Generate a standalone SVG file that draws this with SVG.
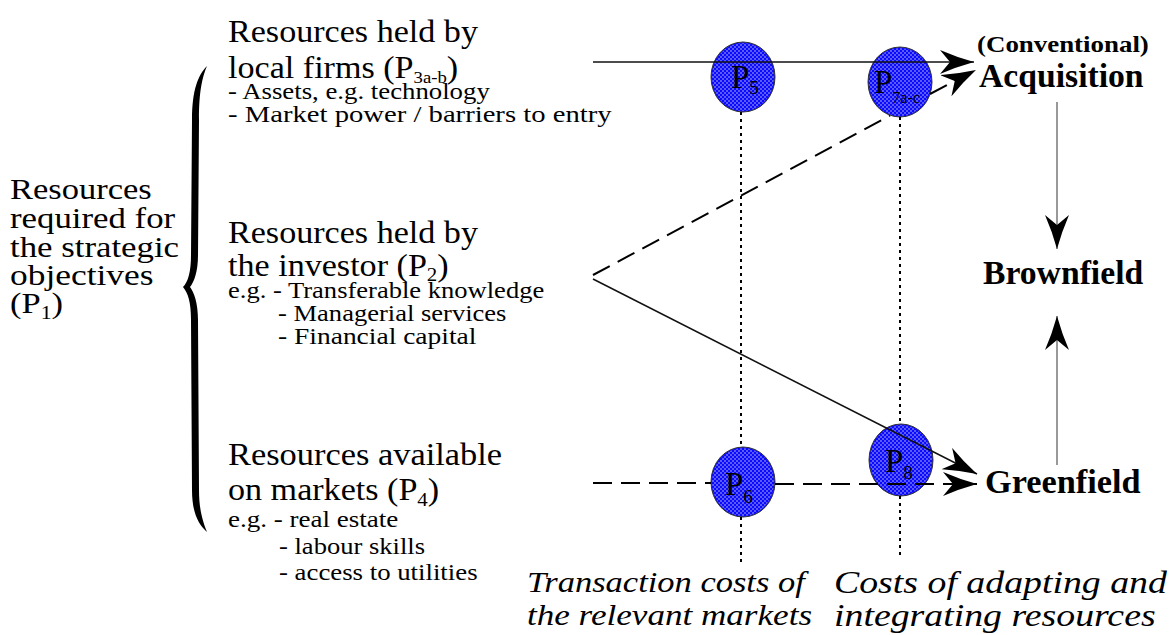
<svg xmlns="http://www.w3.org/2000/svg" width="1171" height="635" viewBox="0 0 1171 635">
<style>
text{font-family:"Liberation Serif","Times New Roman",serif;fill:#000}
.big{font-size:31px}
.left{font-size:30px}
.sm{font-size:23.5px}
.bold{font-size:33px;font-weight:bold}
.conv{font-size:23px;font-weight:bold}
.it{font-size:30px;font-style:italic}
.it2{font-size:31px;font-style:italic}
.pl{font-size:33px}
.sub{font-size:19px}
.base{fill:#0a0aff;stroke:#333;stroke-width:1}
.node{fill:url(#dots);stroke:none}
.solid{fill:none;stroke:#111;stroke-width:1.5}
.dash{fill:none;stroke:#000;stroke-width:2;stroke-dasharray:19 9}
.dot{fill:none;stroke:#000;stroke-width:2;stroke-dasharray:3 4}
.vert{fill:none;stroke:#777;stroke-width:1.5}
</style>
<defs>
<pattern id="dots" width="4" height="4" patternUnits="userSpaceOnUse">
<circle cx="1" cy="1" r="0.7" fill="#fff" fill-opacity="0.9"/>
<circle cx="3" cy="3" r="0.7" fill="#fff" fill-opacity="0.9"/>
</pattern>
<marker id="ah" viewBox="0 0 34 24" markerWidth="34" markerHeight="24" refX="34" refY="12" orient="auto" markerUnits="userSpaceOnUse">
<path d="M0,0 Q16,7 34,12 Q16,17 0,24 L10,12 Z" fill="#000"/>
</marker>
</defs>
<rect width="1171" height="635" fill="#fff"/>

<g id="brace">
<path d="M207,66 C198,75 192,90 192,120 L191,255 C191,272 188,282 183,287 C188,293 191,302 191,320 L192,490 C192,512 198,524 207,532 C203,522 199,510 199,490 L198,320 C198,303 194,292 190,287 C194,282 198,272 198,255 L199,120 C199,92 202,78 207,66 Z" fill="#000"/>
</g>

<g id="node-p1">
<text class="left" transform="translate(10,199) scale(1.15,1)">Resources</text>
<text class="left" transform="translate(10,228) scale(1.16,1)">required for</text>
<text class="left" transform="translate(10,257) scale(1.16,1)">the strategic</text>
<text class="left" transform="translate(10,285) scale(1.18,1)">objectives</text>
<text class="left" transform="translate(10,313) scale(1.15,1)">(P<tspan font-size="19" dy="6">1</tspan><tspan dy="-6">)</tspan></text>
</g>

<g id="node-p3">
<text class="big" transform="translate(228,42) scale(1.1,1)">Resources held by</text>
<text class="big" transform="translate(228,78) scale(1.1,1)">local firms (P<tspan font-size="17" dy="5">3a-b</tspan><tspan dy="-5">)</tspan></text>
<text class="sm" transform="translate(228,99) scale(1.14,1)">- Assets, e.g. technology</text>
<text class="sm" transform="translate(228,122) scale(1.22,1)">- Market power / barriers to entry</text>
</g>

<g id="node-p2">
<text class="big" transform="translate(228,243) scale(1.1,1)">Resources held by</text>
<text class="big" transform="translate(228,276) scale(1.1,1)">the investor (P<tspan font-size="19" dy="5">2</tspan><tspan dy="-5">)</tspan></text>
<text class="sm" transform="translate(228,298) scale(1.13,1)">e.g. - Transferable knowledge</text>
<text class="sm" transform="translate(278,321) scale(1.13,1)">- Managerial services</text>
<text class="sm" transform="translate(278,344) scale(1.17,1)">- Financial capital</text>
</g>

<g id="node-p4">
<text class="big" transform="translate(228,465) scale(1.11,1)">Resources available</text>
<text class="big" transform="translate(228,500) scale(1.1,1)">on markets (P<tspan font-size="19" dy="6">4</tspan><tspan dy="-6">)</tspan></text>
<text class="sm" transform="translate(228,527) scale(1.15,1)">e.g. - real estate</text>
<text class="sm" transform="translate(279,554) scale(1.13,1)">- labour skills</text>
<text class="sm" transform="translate(279,580) scale(1.14,1)">- access to utilities</text>
</g>

<g id="node-p5">
<ellipse class="base" cx="743" cy="77" rx="32" ry="35"/>
<ellipse class="node" cx="743" cy="77" rx="31" ry="34"/>
<text class="pl" x="731" y="88">P<tspan class="sub" dy="6">5</tspan></text>
</g>
<g id="node-p7">
<ellipse class="base" cx="900" cy="82" rx="32" ry="35"/>
<ellipse class="node" cx="900" cy="82" rx="31" ry="34"/>
<text class="pl" x="874" y="93">P<tspan font-size="16" dy="10">7a-c</tspan></text>
</g>
<g id="node-p6">
<ellipse class="base" cx="743" cy="482" rx="32" ry="35"/>
<ellipse class="node" cx="743" cy="482" rx="31" ry="34"/>
<text class="pl" x="725" y="495">P<tspan class="sub" dy="8">6</tspan></text>
</g>
<g id="node-p8">
<ellipse class="base" cx="901" cy="460" rx="32" ry="36"/>
<ellipse class="node" cx="901" cy="460" rx="31" ry="35"/>
<text class="pl" x="885" y="472">P<tspan class="sub" dy="7">8</tspan></text>
</g>

<g id="node-acquisition">
<text class="conv" transform="translate(977,52) scale(1.17,1)">(Conventional)</text>
<text class="bold" transform="translate(979,87) scale(1.02,1)">Acquisition</text>
</g>
<g id="node-brownfield">
<text class="bold" transform="translate(983,284) scale(1.02,1)">Brownfield</text>
</g>
<g id="node-greenfield">
<text class="bold" transform="translate(985,493) scale(1.04,1)">Greenfield</text>
</g>

<g id="label-transaction">
<text class="it" transform="translate(527,592) scale(1.15,1)">Transaction costs of</text>
<text class="it" transform="translate(527,625) scale(1.17,1)">the relevant markets</text>
</g>
<g id="label-adapting">
<text class="it2" transform="translate(834,593) scale(1.22,1)">Costs of adapting and</text>
<text class="it2" transform="translate(834,626) scale(1.22,1)">integrating resources</text>
</g>

<g id="connectors">
<path class="dot" d="M741,112 V447 M741,517 V564"/>
<path class="dot" d="M900,117 V424 M900,496 V556"/>
<path class="solid" d="M593,62 H974" marker-end="url(#ah)"/>
<path class="dash" d="M593,275 L890,115.6"/>
<path class="dash" d="M930,94 L976,70" marker-end="url(#ah)"/>
<path class="solid" d="M593,279 L977,474" marker-end="url(#ah)"/>
<path class="dash" d="M593,483 H711"/>
<path class="dash" d="M775,484 H977" marker-end="url(#ah)"/>
<path class="vert" d="M1057,102 V249" marker-end="url(#ah)"/>
<path class="vert" d="M1057,465 V316" marker-end="url(#ah)"/>
</g>
</svg>
